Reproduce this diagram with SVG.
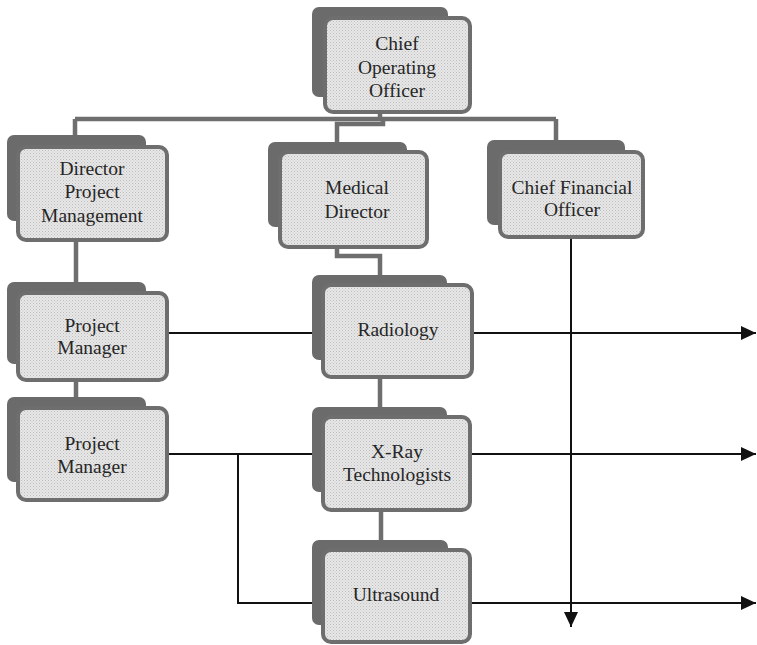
<svg xmlns="http://www.w3.org/2000/svg" width="757" height="645" viewBox="0 0 757 645">
<style>
.sh{fill:#6b6b6b}
.fr{fill:url(#dots);stroke:#6e6e6e;stroke-width:4}
.t{font-family:"Liberation Serif","Times New Roman",serif;font-size:19.5px;fill:#262626;text-anchor:middle}
.g{fill:none;stroke:#6e6e6e;stroke-width:4.5}
.k{fill:none;stroke:#111;stroke-width:2}
</style>
<defs>
<pattern id="dots" width="3" height="3" patternUnits="userSpaceOnUse">
<rect width="3" height="3" fill="#e7e7e7"/>
<rect width="1" height="1" fill="#bdbdbd"/>
<rect x="1.5" y="1.5" width="1" height="1" fill="#c8c8c8"/>
</pattern>
<marker id="ah" markerUnits="userSpaceOnUse" markerWidth="16" markerHeight="14" refX="15" refY="7" orient="auto">
<path d="M0,0 L15,7 L0,14 Z" fill="#111"/>
</marker>
</defs>
<g id="connectors">
<path class="g" d="M380,112 V119 M75,119 H556 M75,119 V137 M383,119 V124 H337 V144 M556,119 V142"/>
<path class="g" d="M76,240 V284 M337,247 V256 H380 V277 M76,380 V399 M380,377 V409 M381,510 V542"/>
<path class="k" d="M167,333 H313 M167,454 H313 M238,454 V603 H313"/>
<path class="k" d="M472,333 H756" marker-end="url(#ah)"/>
<path class="k" d="M472,454 H756" marker-end="url(#ah)"/>
<path class="k" d="M470,603 H756" marker-end="url(#ah)"/>
<path class="k" d="M571,237 V627" marker-end="url(#ah)"/>
</g>
<g id="coo">
<rect class="sh" x="312" y="7" width="136" height="90" rx="7"/>
<rect class="fr" x="325" y="18" width="145" height="94" rx="8"/>
<text class="t" x="397" y="50">Chief</text>
<text class="t" x="397" y="74">Operating</text>
<text class="t" x="397" y="97">Officer</text>
</g>
<g id="director-pm">
<rect class="sh" x="7" y="135" width="139" height="86" rx="7"/>
<rect class="fr" x="18" y="147" width="149" height="93" rx="8"/>
<text class="t" x="92" y="175">Director</text>
<text class="t" x="92" y="198">Project</text>
<text class="t" x="92" y="222">Management</text>
</g>
<g id="medical-director">
<rect class="sh" x="268" y="142" width="139" height="85" rx="7"/>
<rect class="fr" x="280" y="152" width="147" height="95" rx="8"/>
<text class="t" x="357" y="194">Medical</text>
<text class="t" x="357" y="218">Director</text>
</g>
<g id="cfo">
<rect class="sh" x="487" y="140" width="138" height="85" rx="7"/>
<rect class="fr" x="500" y="152" width="143" height="85" rx="8"/>
<text class="t" x="572" y="194">Chief Financial</text>
<text class="t" x="572" y="216">Officer</text>
</g>
<g id="pm1">
<rect class="sh" x="7" y="282" width="139" height="82" rx="7"/>
<rect class="fr" x="18" y="293" width="149" height="87" rx="8"/>
<text class="t" x="92" y="332">Project</text>
<text class="t" x="92" y="354">Manager</text>
</g>
<g id="pm2">
<rect class="sh" x="7" y="397" width="139" height="85" rx="7"/>
<rect class="fr" x="18" y="408" width="149" height="92" rx="8"/>
<text class="t" x="92" y="450">Project</text>
<text class="t" x="92" y="473">Manager</text>
</g>
<g id="radiology">
<rect class="sh" x="312" y="275" width="135" height="85" rx="7"/>
<rect class="fr" x="323" y="285" width="149" height="92" rx="8"/>
<text class="t" x="398" y="336">Radiology</text>
</g>
<g id="xray">
<rect class="sh" x="312" y="407" width="135" height="85" rx="7"/>
<rect class="fr" x="323" y="417" width="147" height="93" rx="8"/>
<text class="t" x="397" y="458">X-Ray</text>
<text class="t" x="397" y="481">Technologists</text>
</g>
<g id="ultrasound">
<rect class="sh" x="312" y="540" width="136" height="85" rx="7"/>
<rect class="fr" x="323" y="550" width="147" height="92" rx="8"/>
<text class="t" x="396" y="601">Ultrasound</text>
</g>
</svg>
